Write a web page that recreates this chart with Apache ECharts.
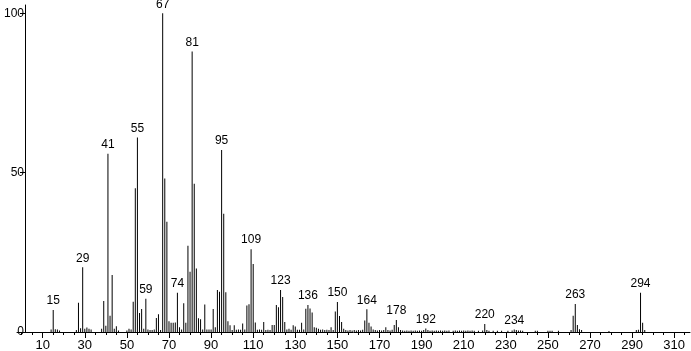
<!DOCTYPE html>
<html>
<head>
<meta charset="utf-8">
<script src="https://cdn.jsdelivr.net/npm/echarts@6/dist/echarts.min.js"></script>
<style>
html,body{margin:0;padding:0;background:#fff;}
#chart{width:691px;height:351px;}
</style>
</head>
<body>
<div id="chart"></div>
<script>
// m/z values and relative intensities (%)
const mz = [
  14,15,16,17,18,26,27,28,29,30,31,32,33,
  38,39,40,41,42,43,44,45,46,
  50,51,52,53,54,55,56,57,58,59,60,61,62,63,64,65,66,
  67,68,69,70,71,72,73,74,75,76,77,78,79,80,81,82,83,84,85,86,87,88,89,90,
  91,92,93,94,95,96,97,98,99,100,101,102,103,104,105,106,107,108,109,110,
  111,112,113,114,115,116,117,118,119,120,121,122,123,124,125,126,127,128,129,130,
  131,132,133,134,135,136,137,138,139,140,141,142,143,144,145,146,147,148,149,150,
  151,152,153,154,155,156,157,158,159,160,161,162,163,164,165,166,167,168,169,170,
  171,172,173,174,175,176,177,178,179,180,181,182,183,184,185,186,187,188,189,190,
  191,192,193,194,195,196,197,198,199,200,201,202,203,205,206,207,208,209,210,211,212,213,214,215,
  217,219,220,221,222,224,226,228,231,233,234,235,236,237,238,244,245,250,251,252,255,
  261,262,263,264,265,266,279,292,293,294,295,296
];
const rel = [
  0.8,6.9,0.9,0.8,0.5,0.6,9.2,1.2,20.3,1.0,1.4,1.0,0.8,
  1.0,9.7,2.0,55.9,5.1,17.9,1.0,1.8,0.5,
  0.5,1.0,0.8,9.5,45.1,61.0,6.0,7.2,1.0,10.4,0.8,0.6,0.6,0.8,4.4,5.6,0.6,
  100,48.2,34.6,3.4,2.9,2.9,3.0,12.3,1.5,0.8,9.0,2.9,27.1,18.9,88.0,46.5,19.9,4.3,4.0,0.8,8.6,0.8,0.8,0.8,
  7.2,1.5,13.2,12.6,57.1,37.1,12.5,3.4,2.1,0.6,2.1,0.7,0.8,0.7,2.7,0.8,8.3,8.7,26.0,21.3,
  3.0,0.7,0.8,0.7,3.1,0.6,0.7,0.6,2.2,2.2,8.5,7.8,13.2,11.0,3.1,0.8,1.0,0.7,2.1,1.7,
  0.7,0.7,2.9,0.8,7.3,8.5,7.4,6.1,1.5,1.3,1.0,0.7,0.8,0.6,0.7,0.6,1.5,0.6,6.4,9.4,
  5.0,3.1,1.0,0.6,0.5,0.6,0.5,0.6,0.5,0.6,0.5,0.7,3.6,7.1,2.9,1.7,0.8,0.6,0.5,0.6,
  0.5,0.6,1.5,0.6,0.5,0.7,2.2,3.8,1.5,0.6,0.5,0.4,0.5,0.4,0.5,0.4,0.5,0.4,0.5,0.4,
  0.6,1.1,0.6,0.4,0.5,0.4,0.5,0.4,0.5,0.4,0.5,0.4,0.5,0.4,0.5,0.4,0.5,0.4,0.5,0.4,0.5,0.4,0.5,0.4,
  0.4,0.5,2.5,0.6,0.4,0.4,0.4,0.4,0.4,0.5,0.8,0.6,0.5,0.5,0.4,0.4,0.4,0.4,0.4,0.4,0.4,
  0.6,5.1,8.8,2.2,0.9,0.6,0.3,0.6,0.7,12.3,2.9,0.6
];
const peakLabels = [15,29,41,55,59,67,74,81,95,109,123,136,150,164,178,192,220,234,263,294];
const xMajorTicks = [10,30,50,70,90,110,130,150,170,190,210,230,250,270,290,310];
const xMinorTicks = [0,5,10,15,20,25,30,35,40,45,50,55,60,65,70,75,80,85,90,95,100,105,110,115,120,125,130,135,140,145,150,155,160,165,170,175,180,185,190,195,200,205,210,215,220,225,230,235,240,245,250,255,260,265,270,275,280,285,290,295,300,305,310,315];
const yTicks = [0,50,100];

const FONT = '"Liberation Sans", Arial, sans-serif';
const data = mz.map((m, i) => {
  const item = { value: [m, rel[i]] };
  if (peakLabels.includes(m)) item.label = { show: true };
  return item;
});

const xMin = -2.2, xMax = 317.5;
const chart = echarts.init(document.getElementById('chart'), null, { renderer: 'canvas' });
chart.setOption({
  animation: false,
  backgroundColor: '#fff',
  grid: { left: 17, right: 1, top: 5, bottom: 19, containLabel: false, outerBoundsMode: 'none' },
  xAxis: [
    {
      type: 'value', min: xMin, max: xMax, position: 'bottom',
      axisLine: { show: true, onZero: false, lineStyle: { color: '#000', width: 1 } },
      axisTick: { show: true, length: 3, customValues: xMinorTicks, lineStyle: { color: '#000' } },
      axisLabel: { show: true, customValues: xMajorTicks, margin: 7, color: '#000', fontSize: 13, fontFamily: FONT },
      splitLine: { show: false }
    },
    {
      type: 'value', min: xMin, max: xMax, position: 'bottom',
      axisLine: { show: false, onZero: false },
      axisTick: { show: true, length: 6, customValues: xMajorTicks, lineStyle: { color: '#000' } },
      axisLabel: { show: false },
      splitLine: { show: false }
    }
  ],
  yAxis: {
    type: 'value', min: 0, max: 102.6, offset: -8,
    axisLine: { show: true, lineStyle: { color: '#000', width: 1 } },
    axisTick: { show: true, length: 5, customValues: yTicks, lineStyle: { color: '#000' } },
    axisLabel: { show: true, customValues: yTicks, margin: 1, color: '#000', fontSize: 12, fontFamily: FONT },
    splitLine: { show: false }
  },
  series: [{
    type: 'bar',
    xAxisIndex: 0,
    barWidth: 1,
    itemStyle: { color: '#000' },
    label: {
      show: false, position: 'top', distance: 3, color: '#000', fontSize: 12, fontFamily: FONT,
      formatter: p => String(p.value[0])
    },
    data: data
  }]
});
</script>
</body>
</html>
